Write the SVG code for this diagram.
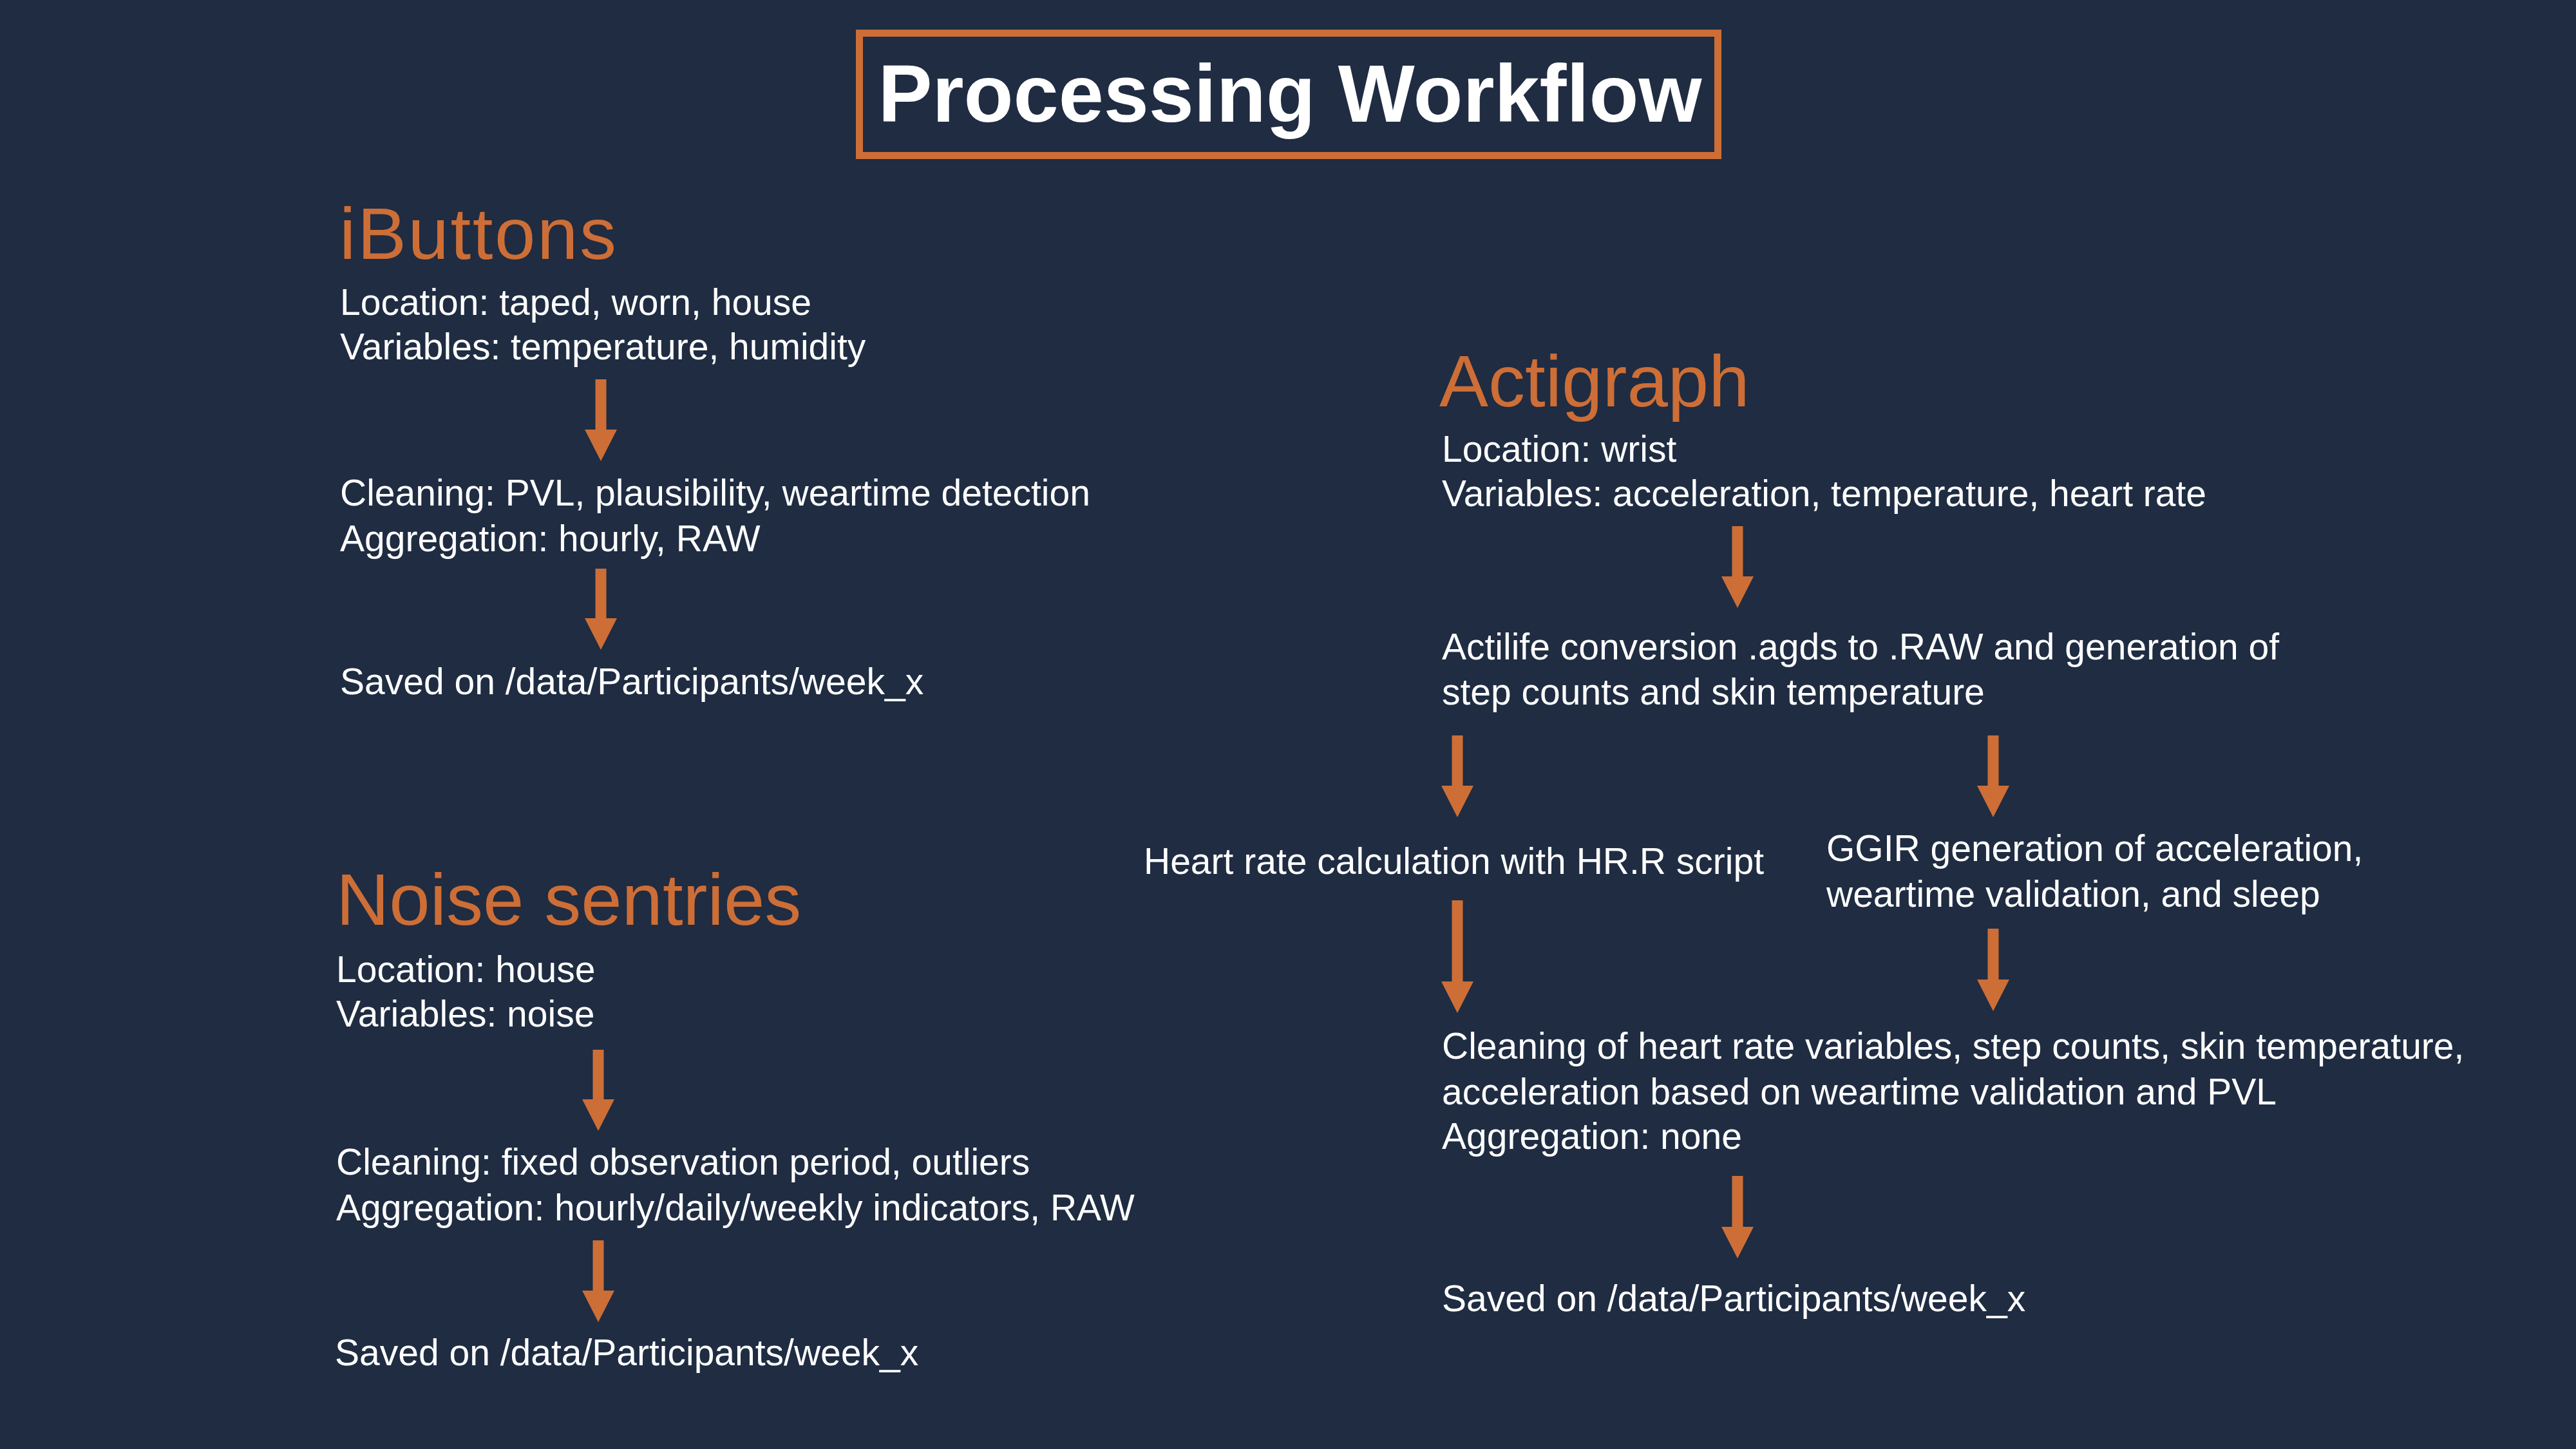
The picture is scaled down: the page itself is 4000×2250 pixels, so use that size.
<svg xmlns="http://www.w3.org/2000/svg" width="4000" height="2250" viewBox="0 0 4000 2250">
  <style>
    .bg { fill: #1F2C42; }
    .frame { fill: none; stroke: #CD6E37; stroke-width: 11; }
    .title { font-family: "Liberation Sans", Arial, sans-serif; font-weight: bold; font-size: 126px; fill: #FFFFFF; }
    .head { font-family: "Liberation Sans", Arial, sans-serif; font-size: 114px; fill: #CD6E37; }
    .body { font-family: "Liberation Sans", Arial, sans-serif; font-size: 57px; fill: #FFFFFF; }
    .arrow { fill: #CD6E37; }
  </style>
  <rect class="bg" x="0" y="0" width="4000" height="2250"/>

  <g id="title">
    <rect class="frame" x="1334.5" y="51.5" width="1333" height="190"/>
    <text class="title" x="2003" y="189" text-anchor="middle">Processing Workflow</text>
  </g>

  <g id="ibuttons-source">
    <text class="head" x="527" y="402" textLength="430">iButtons</text>
    <text class="body" x="528" y="489">Location: taped, worn, house</text>
    <text class="body" x="528" y="558">Variables: temperature, humidity</text>
  </g>
  <g id="ibuttons-cleaning">
    <text class="body" x="528" y="785">Cleaning: PVL, plausibility, weartime detection</text>
    <text class="body" x="528" y="856">Aggregation: hourly, RAW</text>
  </g>
  <g id="ibuttons-saved">
    <text class="body" x="528" y="1078">Saved on /data/Participants/week_x</text>
  </g>

  <g id="noise-source">
    <text class="head" x="522" y="1436">Noise sentries</text>
    <text class="body" x="522" y="1525">Location: house</text>
    <text class="body" x="522" y="1594">Variables: noise</text>
  </g>
  <g id="noise-cleaning">
    <text class="body" x="522" y="1824">Cleaning: fixed observation period, outliers</text>
    <text class="body" x="522" y="1895">Aggregation: hourly/daily/weekly indicators, RAW</text>
  </g>
  <g id="noise-saved">
    <text class="body" x="520" y="2120">Saved on /data/Participants/week_x</text>
  </g>

  <g id="actigraph-source">
    <text class="head" x="2235" y="631">Actigraph</text>
    <text class="body" x="2239" y="717">Location: wrist</text>
    <text class="body" x="2239" y="786">Variables: acceleration, temperature, heart rate</text>
  </g>
  <g id="actilife-conversion">
    <text class="body" x="2239" y="1024">Actilife conversion .agds to .RAW and generation of</text>
    <text class="body" x="2239" y="1094">step counts and skin temperature</text>
  </g>
  <g id="heart-rate-calculation">
    <text class="body" x="1776" y="1357">Heart rate calculation with HR.R script</text>
  </g>
  <g id="ggir-generation">
    <text class="body" x="2836" y="1337">GGIR generation of acceleration,</text>
    <text class="body" x="2836" y="1408">weartime validation, and sleep</text>
  </g>
  <g id="actigraph-cleaning">
    <text class="body" x="2239" y="1644">Cleaning of heart rate variables, step counts, skin temperature,</text>
    <text class="body" x="2239" y="1715">acceleration based on weartime validation and PVL</text>
    <text class="body" x="2239" y="1784">Aggregation: none</text>
  </g>
  <g id="actigraph-saved">
    <text class="body" x="2239" y="2036">Saved on /data/Participants/week_x</text>
  </g>

  <g id="connectors">
    <polygon class="arrow" points="924.5,589 941.5,589 941.5,667 958,667 933,716 908,667 924.5,667"/>
    <polygon class="arrow" points="924.5,883 941.5,883 941.5,960 958,960 933,1009 908,960 924.5,960"/>
    <polygon class="arrow" points="920.5,1630 937.5,1630 937.5,1707 954,1707 929,1756 904,1707 920.5,1707"/>
    <polygon class="arrow" points="920.5,1926 937.5,1926 937.5,2004 954,2004 929,2053 904,2004 920.5,2004"/>
    <polygon class="arrow" points="2689.5,817 2706.5,817 2706.5,895 2723,895 2698,944 2673,895 2689.5,895"/>
    <polygon class="arrow" points="2254.5,1142 2271.5,1142 2271.5,1220 2288,1220 2263,1269 2238,1220 2254.5,1220"/>
    <polygon class="arrow" points="3086.5,1142 3103.5,1142 3103.5,1220 3120,1220 3095,1269 3070,1220 3086.5,1220"/>
    <polygon class="arrow" points="2254.5,1398 2271.5,1398 2271.5,1524 2288,1524 2263,1573 2238,1524 2254.5,1524"/>
    <polygon class="arrow" points="3086.5,1442 3103.5,1442 3103.5,1521 3120,1521 3095,1570 3070,1521 3086.5,1521"/>
    <polygon class="arrow" points="2689.5,1826 2706.5,1826 2706.5,1905 2723,1905 2698,1954 2673,1905 2689.5,1905"/>
  </g>
</svg>
